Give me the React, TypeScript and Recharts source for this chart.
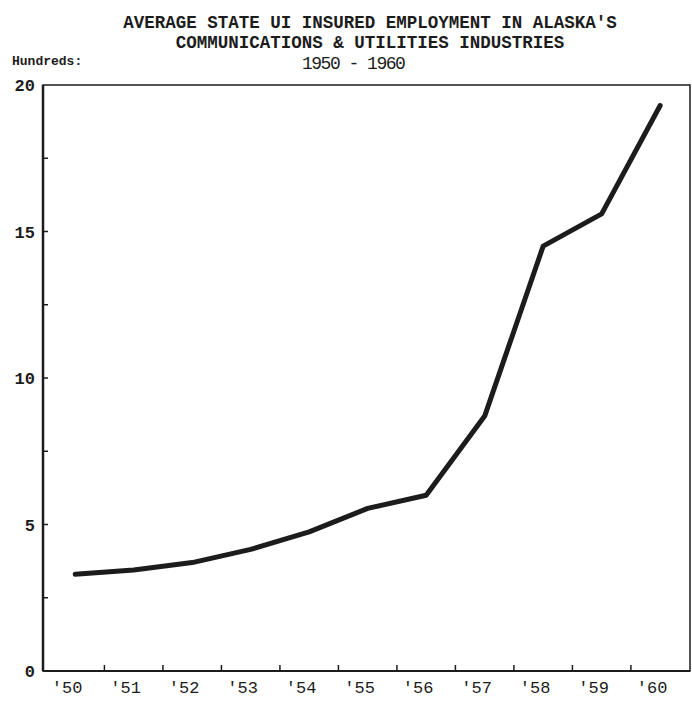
import React from 'react'
import { LineChart, Line, XAxis, YAxis, ReferenceArea } from 'recharts'

const years = [1950, 1951, 1952, 1953, 1954, 1955, 1956, 1957, 1958, 1959, 1960]
// hundreds of workers
const employment = [3.3, 3.45, 3.7, 4.15, 4.75, 5.55, 6.0, 8.7, 14.5, 15.6, 19.3]
const yLabelTicks = [0, 5, 10, 15, 20]
const yMinorTicks = [2.5, 5, 7.5, 10, 12.5, 15, 17.5]
const xMarkTicks = [1950.5, 1951.5, 1952.5, 1953.5, 1954.5, 1955.5, 1956.5, 1957.5, 1958.5, 1959.5]

const ink = '#1c1c1c'
const font = '"Liberation Mono", "DejaVu Sans Mono", monospace'
const xDomain: [number, number] = [1949.45, 1960.51]

const data = years.map((y, i) => ({ year: y, value: employment[i] }))

// small inward marks, drawn from the tick's own position
const XMark = (p: any) => (
    <line x1={p.x} x2={p.x} y1={p.y + 1} y2={p.y - 6} stroke={ink} strokeWidth={1.5} />
)
const YMark = (p: any) => (
    <line x1={p.x - 1} x2={p.x + 5} y1={p.y} y2={p.y} stroke={ink} strokeWidth={1.5} />
)

export default function App() {
    return (
        <div style={{ position: 'absolute', left: 0, top: 0, width: 692, height: 707, background: '#fff' }}>
            <div
                style={{
                    position: 'absolute',
                    left: 0,
                    width: 740,
                    top: 13,
                    textAlign: 'center',
                    fontFamily: font,
                    fontSize: 17.5,
                    fontWeight: 'bold',
                    color: ink,
                    lineHeight: '20px',
                }}
            >
                AVERAGE STATE UI INSURED EMPLOYMENT IN ALASKA'S
                <br />
                COMMUNICATIONS &amp; UTILITIES INDUSTRIES
            </div>
            <div
                style={{
                    position: 'absolute',
                    left: 302,
                    top: 54,
                    fontFamily: font,
                    fontSize: 18,
                    letterSpacing: -1.5,
                    color: ink,
                }}
            >
                1950 - 1960
            </div>
            <div
                style={{
                    position: 'absolute',
                    left: 12,
                    top: 54,
                    fontFamily: font,
                    fontSize: 13,
                    fontWeight: 'bold',
                    color: ink,
                }}
            >
                Hundreds:
            </div>
            <LineChart
                width={692}
                height={707}
                data={data}
                margin={{ top: 85, right: 2, bottom: 0, left: 0 }}
            >
                <XAxis
                    xAxisId="marks"
                    dataKey="year"
                    type="number"
                    domain={xDomain}
                    ticks={xMarkTicks}
                    height={1}
                    mirror
                    tickSize={0}
                    tickMargin={0}
                    tickLine={false}
                    axisLine={false}
                    tick={XMark}
                />
                <XAxis
                    xAxisId="labels"
                    dataKey="year"
                    type="number"
                    domain={xDomain}
                    ticks={years}
                    height={36}
                    tickLine={false}
                    tickSize={4}
                    tickMargin={6}
                    axisLine={{ stroke: ink, strokeWidth: 2 }}
                    tickFormatter={(y: number) => "'" + String(y).slice(2)}
                    tick={{ fill: ink, fontFamily: font, fontSize: 17, dx: -8 }}
                />
                <YAxis
                    yAxisId="marks"
                    type="number"
                    domain={[0, 20]}
                    ticks={yMinorTicks}
                    width={1}
                    mirror
                    tickSize={0}
                    tickMargin={0}
                    tickLine={false}
                    axisLine={false}
                    tick={YMark}
                />
                <YAxis
                    yAxisId="left"
                    type="number"
                    domain={[0, 20]}
                    ticks={yLabelTicks}
                    width={43}
                    tickLine={false}
                    tickSize={4}
                    tickMargin={4}
                    axisLine={{ stroke: ink, strokeWidth: 2.5 }}
                    tick={{ fill: ink, fontFamily: font, fontSize: 17, fontWeight: 'bold' }}
                />
                <ReferenceArea
                    xAxisId="labels"
                    yAxisId="left"
                    x1={xDomain[0]}
                    x2={xDomain[1]}
                    y1={0}
                    y2={20}
                    fill="none"
                    stroke={ink}
                    strokeWidth={1.5}
                    ifOverflow="visible"
                />
                {/* invisible series so the tick-mark axes get drawn */}
                <Line
                    xAxisId="marks"
                    yAxisId="marks"
                    dataKey="value"
                    stroke="none"
                    dot={false}
                    activeDot={false}
                    isAnimationActive={false}
                />
                <Line
                    xAxisId="labels"
                    yAxisId="left"
                    type="linear"
                    dataKey="value"
                    stroke={ink}
                    strokeWidth={5}
                    strokeLinejoin="round"
                    strokeLinecap="round"
                    dot={false}
                    isAnimationActive={false}
                />
            </LineChart>
        </div>
    )
}
